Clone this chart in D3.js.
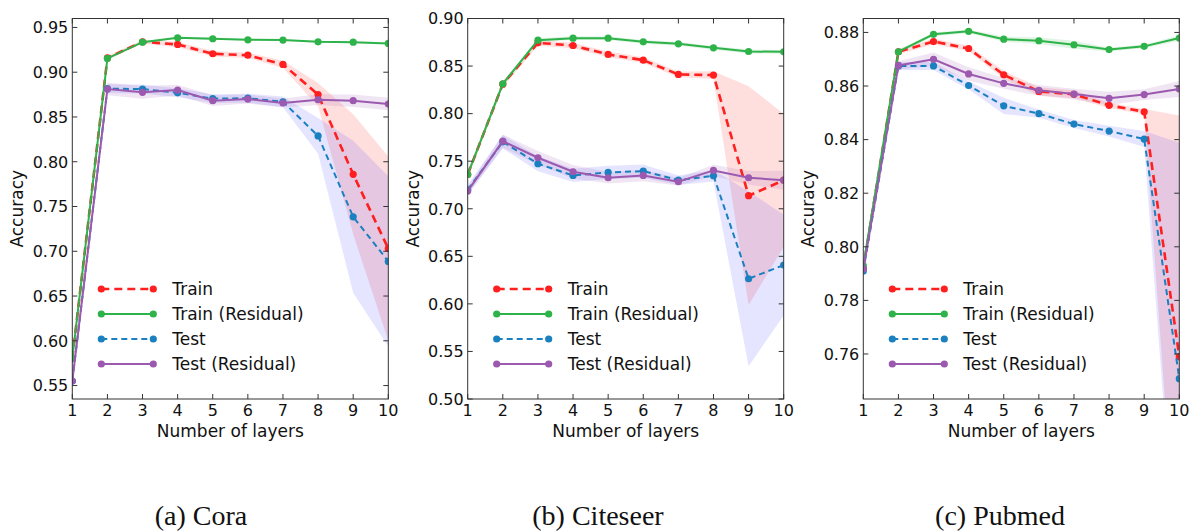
<!DOCTYPE html>
<html>
<head>
<meta charset="utf-8">
<script src="https://cdn.jsdelivr.net/npm/d3@7"></script>
<style>
  body { margin: 0; background: #fff; }
  text { fill: #111; }
  .tick-label { font-family: "DejaVu Sans", sans-serif; font-size: 16px; }
  .axis-title { font-family: "DejaVu Sans", sans-serif; font-size: 17px; }
  .legend-label { font-family: "DejaVu Sans", sans-serif; font-size: 17px; }
  .caption { font-family: "Liberation Serif", "Times New Roman", serif; font-size: 28px; }
</style>
</head>
<body>
<script>
// Global values
const width = 1194;
const height = 531;
const layers = [1, 2, 3, 4, 5, 6, 7, 8, 9, 10];
const seriesNames = ["Train", "Train (Residual)", "Test", "Test (Residual)"];
const captions = ["(a) Cora", "(b) Citeseer", "(c) Pubmed"];

// Cora
const coraTrain = [0.580, 0.916, 0.934, 0.931, 0.9206, 0.919, 0.9087, 0.875, 0.786, 0.703];
const coraTrainStd = [0.008, 0.002, 0.002, 0.003, 0.003, 0.003, 0.004, 0.013, 0.067, 0.103];
const coraTrainRes = [0.580, 0.9154, 0.9336, 0.9385, 0.9374, 0.9362, 0.9359, 0.934, 0.9336, 0.9322];
const coraTrainResStd = [0.006, 0.001, 0.001, 0.001, 0.001, 0.001, 0.001, 0.001, 0.001, 0.001];
const coraTest = [0.555, 0.8816, 0.8812, 0.877, 0.8705, 0.871, 0.867, 0.8288, 0.7385, 0.6887];
const coraTestStd = [0.006, 0.005, 0.005, 0.005, 0.005, 0.005, 0.006, 0.02, 0.085, 0.095];
const coraTestRes = [0.555, 0.8812, 0.8775, 0.880, 0.8682, 0.870, 0.8656, 0.8693, 0.8682, 0.8645];
const coraTestResStd = [0.006, 0.007, 0.007, 0.006, 0.006, 0.005, 0.005, 0.006, 0.007, 0.007];
const coraTicks = [0.55, 0.60, 0.65, 0.70, 0.75, 0.80, 0.85, 0.90, 0.95];

// Citeseer
const citeTrain = [0.736, 0.831, 0.8744, 0.8716, 0.8622, 0.8562, 0.8412, 0.8405, 0.7137, 0.730];
const citeTrainStd = [0.004, 0.003, 0.003, 0.003, 0.003, 0.003, 0.003, 0.004, 0.115, 0.07];
const citeTrainRes = [0.736, 0.8313, 0.8772, 0.8793, 0.8793, 0.8755, 0.8734, 0.8692, 0.8653, 0.865];
const citeTrainResStd = [0.003, 0.002, 0.002, 0.002, 0.002, 0.002, 0.002, 0.002, 0.002, 0.002];
const citeTest = [0.72, 0.7704, 0.7473, 0.735, 0.7382, 0.7396, 0.730, 0.7347, 0.6264, 0.6408];
const citeTestStd = [0.005, 0.007, 0.008, 0.007, 0.007, 0.007, 0.005, 0.006, 0.092, 0.053];
const citeTestRes = [0.7186, 0.7711, 0.7536, 0.7389, 0.7326, 0.735, 0.7284, 0.7403, 0.7326, 0.730];
const citeTestResStd = [0.004, 0.007, 0.007, 0.007, 0.006, 0.006, 0.004, 0.006, 0.007, 0.01];
const citeTicks = [0.50, 0.55, 0.60, 0.65, 0.70, 0.75, 0.80, 0.85, 0.90];

// Pubmed
const pubTrain = [0.792, 0.8728, 0.8766, 0.874, 0.8642, 0.858, 0.8569, 0.8528, 0.8504, 0.759];
const pubTrainStd = [0.001, 0.001, 0.001, 0.001, 0.0015, 0.0015, 0.0015, 0.001, 0.001, 0.09];
const pubTrainRes = [0.793, 0.8728, 0.8793, 0.8804, 0.8775, 0.8769, 0.8754, 0.8736, 0.8748, 0.8779];
const pubTrainResStd = [0.001, 0.0007, 0.0007, 0.0007, 0.001, 0.0012, 0.0015, 0.0007, 0.0007, 0.001];
const pubTest = [0.791, 0.8675, 0.8675, 0.8602, 0.8526, 0.8497, 0.8458, 0.8432, 0.8402, 0.7508];
const pubTestStd = [0.001, 0.0015, 0.0015, 0.0015, 0.003, 0.0015, 0.0015, 0.002, 0.003, 0.088];
const pubTestRes = [0.7917, 0.8677, 0.870, 0.8645, 0.861, 0.8584, 0.857, 0.8554, 0.8568, 0.8589];
const pubTestResStd = [0.001, 0.0015, 0.0025, 0.0025, 0.002, 0.002, 0.002, 0.0025, 0.002, 0.003];
const pubTicks = [0.76, 0.78, 0.80, 0.82, 0.84, 0.86, 0.88];

// line styles for the four series
const styles = [
  { color: "#ff1f1f", band: "#ff0000", bandOpacity: 0.13, width: 2.6, dash: "8,5" },
  { color: "#2eb24a", band: "#2eb24a", bandOpacity: 0.15, width: 2, dash: null },
  { color: "#1a80c0", band: "#0000ff", bandOpacity: 0.1, width: 2, dash: "6,4" },
  { color: "#9c59b0", band: "#9c59b0", bandOpacity: 0.15, width: 2, dash: null }
];

const panels = [
  { left: 72.3, yDomain: [0.535, 0.96], ticks: coraTicks,
    series: [[coraTrain, coraTrainStd], [coraTrainRes, coraTrainResStd], [coraTest, coraTestStd], [coraTestRes, coraTestResStd]],
    caption: captions[0], captionX: 201 },
  { left: 467.7, yDomain: [0.5, 0.9], ticks: citeTicks,
    series: [[citeTrain, citeTrainStd], [citeTrainRes, citeTrainResStd], [citeTest, citeTestStd], [citeTestRes, citeTestResStd]],
    caption: captions[1], captionX: 598 },
  { left: 863.3, yDomain: [0.7432, 0.8852], ticks: pubTicks,
    series: [[pubTrain, pubTrainStd], [pubTrainRes, pubTrainResStd], [pubTest, pubTestStd], [pubTestRes, pubTestResStd]],
    caption: captions[2], captionX: 1000 }
];

const plotW = 316;
const plotTop = 18.5;
const plotBottom = 399;
const tickLen = 5;

const svg = d3.select("body").append("svg")
  .attr("width", width)
  .attr("height", height);

panels.forEach((p, pi) => drawPanel(p, pi));

function drawPanel(p, pi) {
  const x = d3.scaleLinear().domain([1, 10]).range([0, plotW]);
  const y = d3.scaleLinear().domain(p.yDomain).range([plotBottom - plotTop, 0]);
  const h = plotBottom - plotTop;

  const g = svg.append("g")
    .attr("transform", `translate(${p.left},${plotTop})`);

  g.append("clipPath").attr("id", `clip${pi}`)
    .append("rect").attr("width", plotW).attr("height", h);

  const plot = g.append("g").attr("clip-path", `url(#clip${pi})`);

  // std bands
  const area = d3.area()
    .x((d, i) => x(layers[i]))
    .y0(d => y(d[0] - d[1]))
    .y1(d => y(d[0] + d[1]));

  p.series.forEach((s, si) => {
    const rows = s[0].map((v, i) => [v, s[1][i]]);
    plot.append("path")
      .attr("d", area(rows))
      .attr("fill", styles[si].band)
      .attr("fill-opacity", styles[si].bandOpacity);
  });

  // lines + markers
  const line = d3.line()
    .x((d, i) => x(layers[i]))
    .y(d => y(d));

  p.series.forEach((s, si) => {
    const st = styles[si];
    plot.append("path")
      .attr("d", line(s[0]))
      .attr("fill", "none")
      .attr("stroke", st.color)
      .attr("stroke-width", st.width)
      .attr("stroke-dasharray", st.dash);
    plot.selectAll(null)
      .data(s[0])
      .enter().append("circle")
        .attr("cx", (d, i) => x(layers[i]))
        .attr("cy", d => y(d))
        .attr("r", 3.6)
        .attr("fill", st.color);
  });

  // frame
  g.append("rect")
    .attr("width", plotW).attr("height", h)
    .attr("fill", "none").attr("stroke", "#333").attr("stroke-width", 1);

  // y ticks (inward, both sides)
  p.ticks.forEach(t => {
    const ty = y(t);
    g.append("line").attr("x1", 0).attr("x2", tickLen).attr("y1", ty).attr("y2", ty).attr("stroke", "#333");
    g.append("line").attr("x1", plotW).attr("x2", plotW - tickLen).attr("y1", ty).attr("y2", ty).attr("stroke", "#333");
    g.append("text").attr("class", "tick-label")
      .attr("x", -4).attr("y", ty).attr("dy", "0.36em")
      .attr("text-anchor", "end")
      .text(d3.format(".2f")(t));
  });

  // x ticks
  layers.forEach(l => {
    const tx = x(l);
    g.append("line").attr("x1", tx).attr("x2", tx).attr("y1", h).attr("y2", h - tickLen).attr("stroke", "#333");
    g.append("line").attr("x1", tx).attr("x2", tx).attr("y1", 0).attr("y2", tickLen).attr("stroke", "#333");
    g.append("text").attr("class", "tick-label")
      .attr("x", tx).attr("y", 416 - plotTop)
      .attr("text-anchor", "middle")
      .text(l);
  });

  // axis titles
  g.append("text").attr("class", "axis-title")
    .attr("x", plotW / 2).attr("y", 436.5 - plotTop)
    .attr("text-anchor", "middle")
    .text("Number of layers");

  g.append("text").attr("class", "axis-title")
    .attr("transform", `translate(-49,${h / 2}) rotate(-90)`)
    .attr("text-anchor", "middle")
    .text("Accuracy");

  // legend
  const legend = g.append("g").attr("transform", `translate(0,${289 - plotTop})`);
  seriesNames.forEach((name, si) => {
    const st = styles[si];
    const row = legend.append("g").attr("transform", `translate(0,${si * 25})`);
    row.append("line")
      .attr("x1", 29).attr("x2", 81).attr("y1", 0).attr("y2", 0)
      .attr("stroke", st.color).attr("stroke-width", st.width)
      .attr("stroke-dasharray", st.dash);
    [29, 81].forEach(cx => {
      row.append("circle").attr("cx", cx).attr("cy", 0).attr("r", 3.6).attr("fill", st.color);
    });
    row.append("text").attr("class", "legend-label")
      .attr("x", 100).attr("y", 0).attr("dy", "0.36em")
      .text(name);
  });

  // caption below panel
  svg.append("text").attr("class", "caption")
    .attr("x", p.captionX).attr("y", 525)
    .attr("text-anchor", "middle")
    .text(p.caption);
}
</script>
</body>
</html>
